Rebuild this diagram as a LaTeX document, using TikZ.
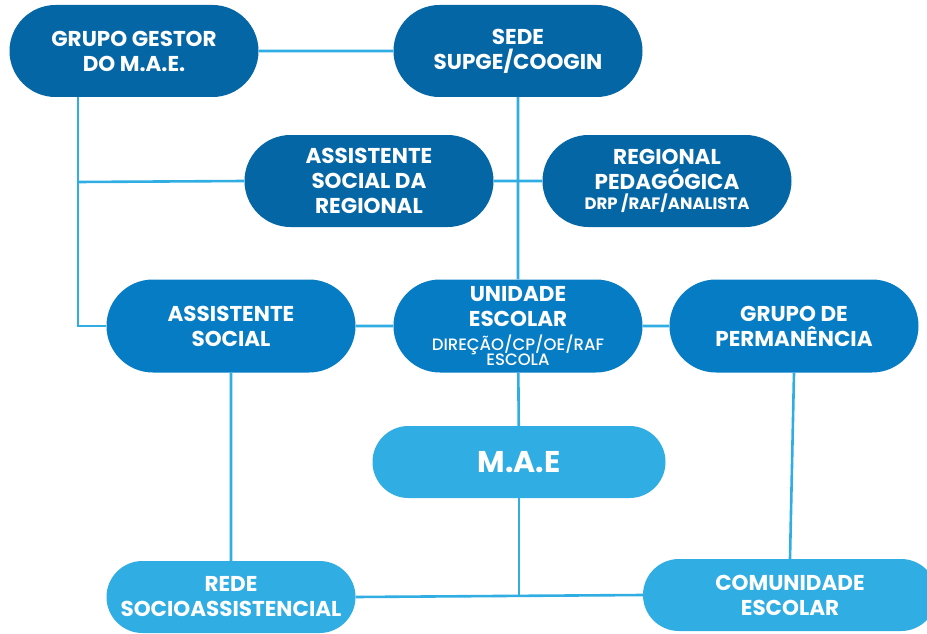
\documentclass[tikz,border=0pt]{standalone}
\usepackage{fontspec}
\setmainfont{Poppins}
\newfontfamily\medfont{Poppins}[UprightFont={* Medium}]
\usetikzlibrary{shapes.misc}
\definecolor{maedark}{HTML}{0566A6}
\definecolor{maemid}{HTML}{057CC4}
\definecolor{maelight}{HTML}{30ADE3}
\newcommand{\sm}{\fontsize{16.5}{15}\selectfont}

\begin{document}
\begin{tikzpicture}[x=1pt,y=-1pt,
  box/.style={rounded rectangle,inner sep=0pt,align=center,text=white,
    minimum width=249pt,font=\bfseries\fontsize{21.5}{25}\selectfont},
  top/.style={box,fill=maedark,minimum height=92pt},
  mid/.style={box,fill=maemid,minimum height=93pt},
  low/.style={box,fill=maelight,minimum height=72pt},
  link/.style={draw=maelight,line width=2.6pt}]
  \useasboundingbox(0,0)rectangle(927,634);
  \node[top](gestor)at(134,51){GRUPO GESTOR\\DO M.A.E.};
  \node[top](sede)at(518,51){SEDE\\SUPGE/COOGIN};
  \node[top](asreg)at(369,181){ASSISTENTE\\SOCIAL DA\\REGIONAL};
  \node[top](regped)at(667,181){REGIONAL\\PEDAGÓGICA\\[-5pt]{\sm DRP /RAF/ANALISTA}};
  \node[mid](assoc)at(231,326){ASSISTENTE\\SOCIAL};
  \node[mid](unid)at(518,326){UNIDADE\\ESCOLAR\\[-1pt]{\sm\mdseries\medfont DIREÇÃO/CP/OE/RAF}\\[-10pt]{\sm\mdseries\medfont ESCOLA}};
  \node[mid](perm)at(794,326){GRUPO DE\\PERMANÊNCIA};
  \node[low,minimum width=293pt,font=\bfseries\fontsize{30}{30}\selectfont](mae)at(519,462){M.A.E};
  \node[low](rede)at(231,597){REDE\\SOCIOASSISTENCIAL};
  \node[low,minimum width=294pt](com)at(790,595){COMUNIDADE\\ESCOLAR};
  \coordinate(lbus)at(78,182);
  \draw[link](gestor)--(sede);
  \draw[link](gestor.south-|lbus)--(lbus|-assoc.west)--(assoc.west);
  \draw[link](lbus)--(asreg.west);
  \draw[link](sede)--(unid);
  \draw[link](asreg)--(regped);
  \draw[link](assoc)--(unid);
  \draw[link](unid)--(perm);
  \draw[link](unid)--(mae);
  \draw[link](assoc)--(rede);
  \draw[link](rede.east)--(com.west);
  \draw[link](mae.south)--(mae.south|-com.west);
  \draw[link](perm.south)--(com.north);
\end{tikzpicture}
\end{document}
